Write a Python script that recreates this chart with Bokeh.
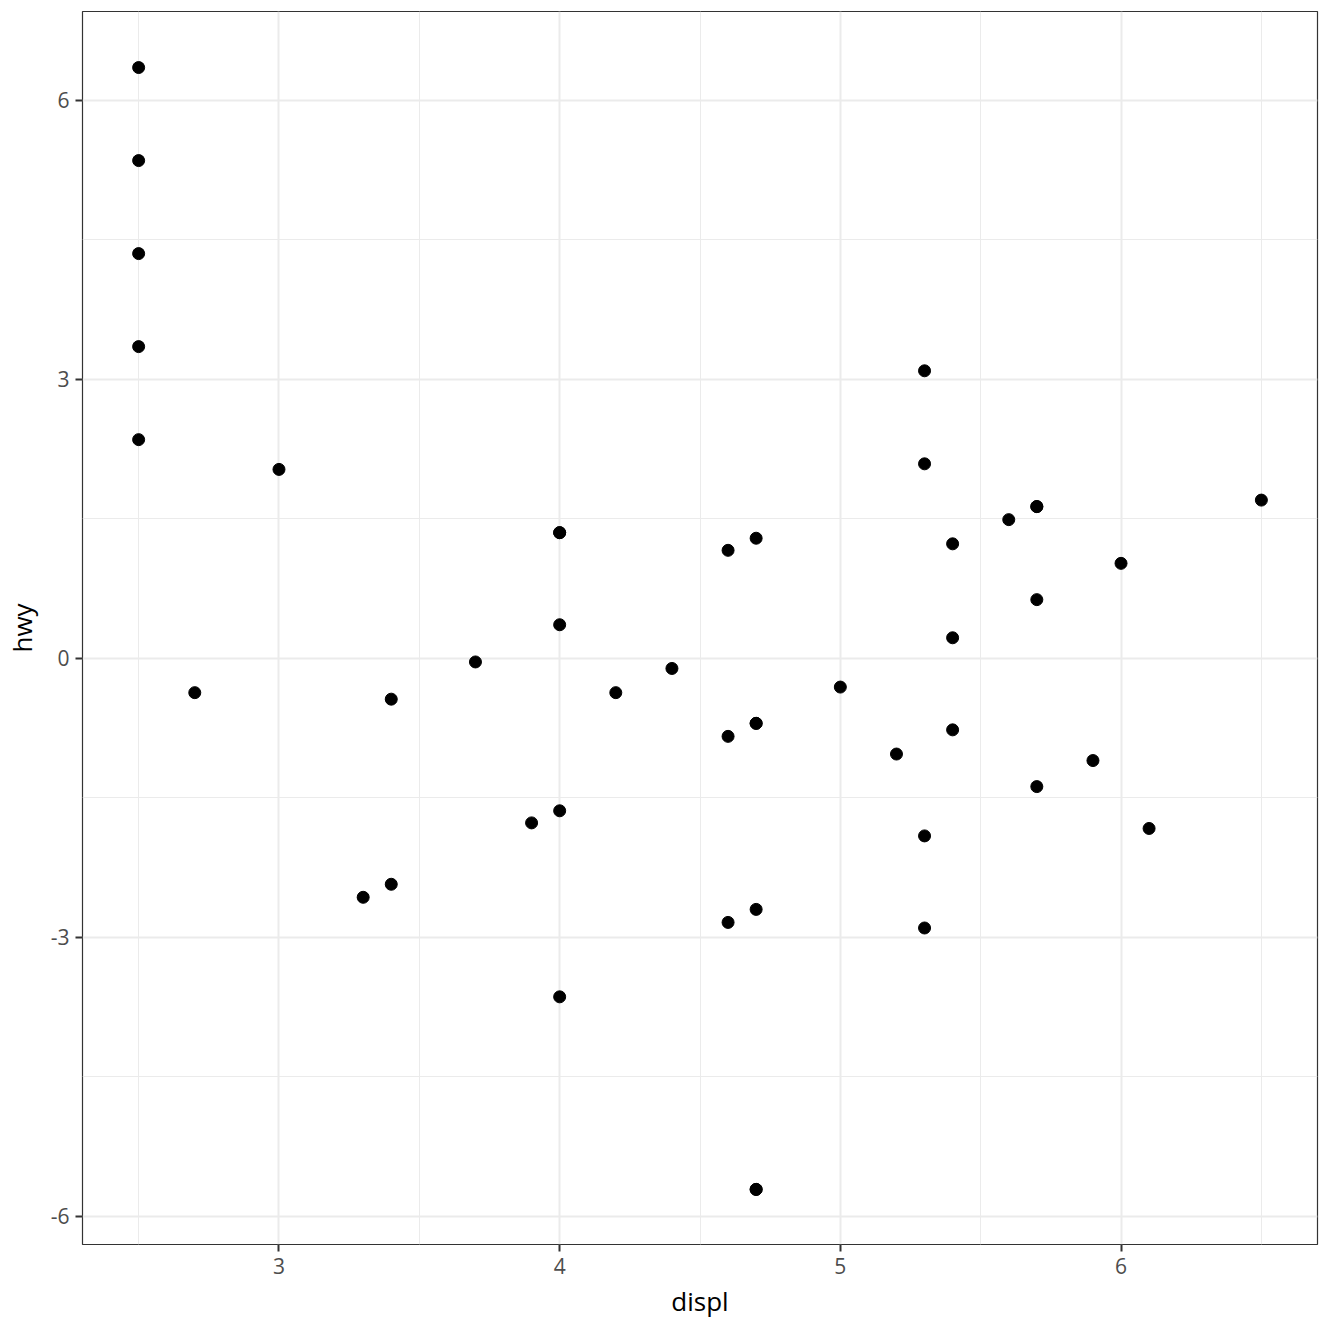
from bokeh.plotting import figure
from bokeh.models import Range1d, FixedTicker
from bokeh.embed import file_html
from bokeh.resources import INLINE

displ = [2.5, 2.5, 2.5, 2.5, 2.5,
         2.7, 3.0, 3.3, 3.4, 3.4, 3.7, 3.9,
         4.0, 4.0, 4.0, 4.0, 4.0,
         4.2, 4.4,
         4.6, 4.6, 4.6,
         4.7, 4.7, 4.7, 4.7, 4.7, 4.7,
         5.0, 5.2,
         5.3, 5.3, 5.3, 5.3,
         5.4, 5.4, 5.4,
         5.6,
         5.7, 5.7, 5.7, 5.7,
         5.9, 6.0, 6.1, 6.5]
hwy = [6.35, 5.35, 4.35, 3.35, 2.35,
       -0.37, 2.03, -2.57, -0.44, -2.43, -0.04, -1.77,
       1.35, 1.35, 0.36, -1.64, -3.64,
       -0.37, -0.11,
       1.16, -0.84, -2.84,
       1.29, -0.70, -0.70, -2.70, -5.71, -5.71,
       -0.31, -1.03,
       3.09, 2.09, -1.91, -2.90,
       1.23, 0.22, -0.77,
       1.49,
       1.63, 1.63, 0.63, -1.38,
       -1.10, 1.02, -1.83, 1.70]

x_ticks = [3, 4, 5, 6]
x_minor = [2.5, 3.5, 4.5, 5.5, 6.5]
y_ticks = [-6, -3, 0, 3, 6]
y_minor = [-4.5, -1.5, 1.5, 4.5]

FONT = "Open Sans"

p = figure(width=1328, height=1328, output_backend="svg", toolbar_location=None,
           x_range=Range1d(2.3, 6.7), y_range=Range1d(-6.3025, 6.9525),
           min_border_left=81, min_border_right=11, min_border_top=11, min_border_bottom=84)

p.background_fill_color = "white"
p.border_fill_color = "white"
p.outline_line_color = "#333333"
p.outline_line_width = 1.2

tick_map = {-6: "-6", -3: "-3", 0: "0", 3: "3", 6: "6"}

p.xaxis.ticker = FixedTicker(ticks=x_ticks, minor_ticks=x_minor)
p.yaxis.ticker = FixedTicker(ticks=y_ticks, minor_ticks=y_minor)
p.yaxis.major_label_overrides = {t: tick_map[t] for t in y_ticks}
p.xaxis.major_label_overrides = {t: str(t) for t in x_ticks}

for ax in (p.xaxis, p.yaxis):
    ax.axis_line_color = None
    ax.major_tick_in = 0
    ax.major_tick_out = 7
    ax.major_tick_line_color = "#333333"
    ax.major_tick_line_width = 2
    ax.minor_tick_line_color = None
    ax.major_label_text_font = FONT
    ax.major_label_text_font_size = "21px"
    ax.major_label_text_color = "#4D4D4D"
    ax.axis_label_text_font = FONT
    ax.axis_label_text_font_size = "26px"
    ax.axis_label_text_font_style = "normal"
    ax.axis_label_text_color = "black"

p.xaxis.axis_label = "displ"
p.yaxis.axis_label = "hwy"
p.xaxis.major_label_standoff = 6
p.yaxis.major_label_standoff = 6
p.xaxis.axis_label_standoff = 6
p.yaxis.axis_label_standoff = 8

for g in (p.xgrid, p.ygrid):
    g.grid_line_color = "#EBEBEB"
    g.grid_line_width = 2
    g.minor_grid_line_color = "#EBEBEB"
    g.minor_grid_line_width = 1

p.scatter(displ, hwy, size=12, color="black", line_color="black")

open("out.html", "w").write(file_html(p, INLINE))
